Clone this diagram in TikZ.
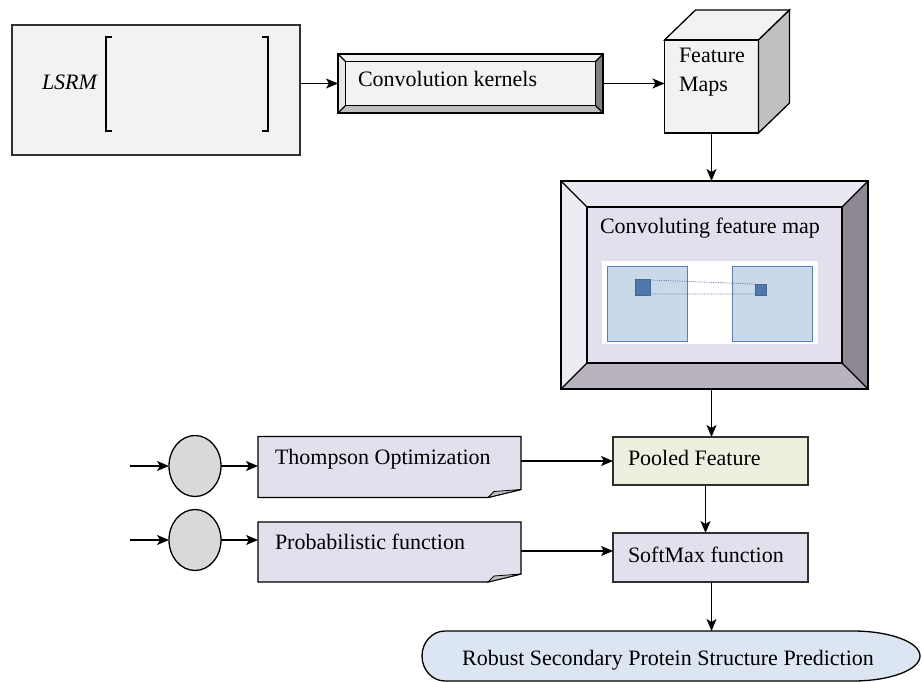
\documentclass[tikz,border=0pt]{standalone}
\usepackage{fontspec}
\setmainfont{Liberation Serif}
\usetikzlibrary{arrows.meta,calc,shapes.geometric}

\definecolor{boxgray}{HTML}{F2F2F2}
\definecolor{edgegray}{HTML}{303030}
\definecolor{lavender}{HTML}{E4DFEC}
\definecolor{lavtop}{HTML}{EBE7F0}
\definecolor{lavleft}{HTML}{EEEBF3}
\definecolor{lavright}{HTML}{8C8791}
\definecolor{lavbottom}{HTML}{B9B3C0}
\definecolor{kerntop}{HTML}{F2F2F2}
\definecolor{kernleft}{HTML}{E8E8E8}
\definecolor{kernright}{HTML}{808080}
\definecolor{kernbottom}{HTML}{BFBFBF}
\definecolor{paleolive}{HTML}{EBF1DE}
\definecolor{paleblue}{HTML}{DCE6F2}
\definecolor{mapfill}{HTML}{C9D9EA}
\definecolor{mapedge}{HTML}{5B7FAE}
\definecolor{patchfill}{HTML}{4F76AD}
\definecolor{circlegray}{HTML}{D9D9D9}
\definecolor{cubeside}{HTML}{C0C0C0}

% bevelled frame around an (empty) rectangular node:
% #1 node, #2 inset, #3 top, #4 left, #5 right, #6 bottom, #7 face colour
\newcommand\bevelbox[7]{%
  \fill[#3] (#1.north west) -- (#1.north east) -- ($(#1.north east)+(-#2,#2)$) -- ($(#1.north west)+(#2,#2)$) -- cycle;
  \fill[#4] (#1.north west) -- ($(#1.north west)+(#2,#2)$) -- ($(#1.south west)+(#2,-#2)$) -- (#1.south west) -- cycle;
  \fill[#5] (#1.north east) -- (#1.south east) -- ($(#1.south east)+(-#2,-#2)$) -- ($(#1.north east)+(-#2,#2)$) -- cycle;
  \fill[#6] (#1.south west) -- (#1.south east) -- ($(#1.south east)+(-#2,-#2)$) -- ($(#1.south west)+(#2,-#2)$) -- cycle;
  \fill[#7] ($(#1.north west)+(#2,#2)$) rectangle ($(#1.south east)+(-#2,-#2)$);
  \draw[edge] ($(#1.north west)+(#2,#2)$) rectangle ($(#1.south east)+(-#2,-#2)$);
  \draw[edge] (#1.north west) -- ($(#1.north west)+(#2,#2)$)
              (#1.north east) -- ($(#1.north east)+(-#2,#2)$)
              (#1.south west) -- ($(#1.south west)+(#2,-#2)$)
              (#1.south east) -- ($(#1.south east)+(-#2,-#2)$);
  \draw[edge] (#1.north west) rectangle (#1.south east);
}

\tikzset{
  edge/.style={draw=black, line width=1.3pt, line join=miter},
  arr/.style={draw=black, line width=1.2pt, -{Stealth[length=12pt,width=10pt,inset=3pt]}},
  frame/.style={draw=none, rectangle, inner sep=0pt, outer sep=0pt},
  label/.style={inner sep=0pt, outer sep=0pt, font=\fontsize{22}{26}\selectfont},
  bubble/.style={ellipse, draw=black, line width=1.3pt, fill=circlegray,
                 minimum width=52pt, minimum height=61pt, inner sep=0pt, outer sep=0pt},
}

\begin{document}
\begin{tikzpicture}[x=1pt,y=-1pt]
\useasboundingbox (0,0) rectangle (923,682);

% ---------- input matrix ----------
\node[frame, fill=boxgray, draw=edgegray, line width=1.4pt,
      minimum width=288pt, minimum height=130pt] (lsrm) at (156,90) {};
\node[label, anchor=base west, font=\fontsize{22}{24}\selectfont\itshape] (lsrmtxt) at (42,90) {LSRM};
\draw[line width=1.8pt] (112,37) -- (106,37) -- (106,131) -- (112,131);
\draw[line width=1.8pt] (262,37) -- (268,37) -- (268,131) -- (262,131);

% ---------- convolution kernels ----------
\node[frame, minimum width=265pt, minimum height=59pt] (kern) at (470.5,83.5) {};
\bevelbox{kern}{7.5}{kerntop}{kernleft}{kernright}{kernbottom}{boxgray}
\node[label, anchor=base west] (kerntxt) at (358,87) {Convolution kernels};

% ---------- feature maps cube ----------
\node[frame, minimum width=94pt, minimum height=93pt] (cube) at (711.5,86.5) {};
\fill[boxgray] (cube.north west) rectangle (cube.south east);
\filldraw[fill=boxgray, edge] (cube.north west) -- ++(31,-30) -- ++(94,0) -- (cube.north east) -- cycle;
\filldraw[fill=cubeside, edge] (cube.north east) -- ++(31,-30) -- ++(0,93) -- (cube.south east) -- cycle;
\draw[edge] (cube.north west) rectangle (cube.south east);
\node[label, anchor=base west] (feat1) at (679,63) {Feature};
\node[label, anchor=base west] (feat2) at (679,92) {Maps};

% ---------- convoluting feature map ----------
\node[frame, minimum width=307pt, minimum height=208pt] (convmap) at (714.5,285) {};
\bevelbox{convmap}{26}{lavtop}{lavleft}{lavright}{lavbottom}{lavender}
\node[label, anchor=base west] (convtxt) at (600,233) {Convoluting feature map};
\fill[white] (602,261) rectangle (818,344);
\filldraw[fill=mapfill, draw=mapedge, line width=1pt] (607,266) rectangle (687,341);
\filldraw[fill=mapfill, draw=mapedge, line width=1pt] (732,266) rectangle (812,341);
\draw[mapedge, densely dotted, line width=0.8pt] (650,280) -- (755,284) (650,294) -- (755,294);
\filldraw[fill=patchfill, draw=mapedge!80!black, line width=1pt] (635,279) rectangle (650,295);
\filldraw[fill=patchfill, draw=mapedge!80!black, line width=1pt] (755,284) rectangle (766,295);

% ---------- pooled feature / softmax ----------
\node[frame, fill=paleolive, draw=edgegray, line width=1.4pt,
      minimum width=195pt, minimum height=48pt] (pooled) at (710.5,461) {};
\node[label, anchor=base west] (pooltxt) at (628,465) {Pooled Feature};
\node[frame, fill=lavender, draw=edgegray, line width=1.4pt,
      minimum width=195pt, minimum height=49pt] (softmax) at (710.5,557.5) {};
\node[label, anchor=base west] (softtxt) at (628,562) {SoftMax function};

% ---------- optimisation inputs ----------
\node[frame, minimum width=263pt, minimum height=61pt] (thompson) at (389.5,467) {};
\filldraw[fill=lavender, edge] (thompson.north west) -- (thompson.north east) -- ($(thompson.south east)+(0,-8)$)
  -- ($(thompson.south east)+(-33,0)$) -- (thompson.south west) -- cycle;
\filldraw[fill=kernbottom, draw=black, line width=0.8pt] ($(thompson.south east)+(-33,0)$) -- ($(thompson.south east)+(-27,-6)$) -- ($(thompson.south east)+(0,-8)$) -- cycle;
\node[label, anchor=base west] (thtxt) at (275,464) {Thompson Optimization};

\node[frame, minimum width=263pt, minimum height=60pt] (prob) at (389.5,552) {};
\filldraw[fill=lavender, edge] (prob.north west) -- (prob.north east) -- ($(prob.south east)+(0,-8)$)
  -- ($(prob.south east)+(-33,0)$) -- (prob.south west) -- cycle;
\filldraw[fill=kernbottom, draw=black, line width=0.8pt] ($(prob.south east)+(-33,0)$) -- ($(prob.south east)+(-27,-6)$) -- ($(prob.south east)+(0,-8)$) -- cycle;
\node[label, anchor=base west] (probtxt) at (275,549) {Probabilistic function};

\node[bubble] (c1) at (195,466) {};
\node[bubble] (c2) at (195,540) {};
\coordinate (in1) at (130,466);
\coordinate (in2) at (130,540);

% ---------- result ----------
\node[frame, minimum width=498pt, minimum height=50pt] (result) at (671,656) {};
\filldraw[fill=paleblue, edge] (445,631) -- (853,631) arc[start angle=-90, end angle=90, x radius=67, y radius=25]
  -- (445,681) arc[start angle=90, end angle=270, x radius=23, y radius=25] -- cycle;
\node[label, anchor=base] (restxt) at (668,665) {Robust Secondary Protein Structure Prediction};

% ---------- connectors ----------
\draw[arr] (lsrm.east |- kern.west) -- (kern.west);
\draw[arr] (kern.east) -- (cube.west |- kern.east);
\draw[arr] (cube.south) -- (cube.south |- convmap.north);
\draw[arr] (cube.south |- convmap.south) -- (cube.south |- pooled.north);
\draw[arr] ([xshift=-5pt]pooled.south) -- ([xshift=-5pt]pooled.south |- softmax.north);
\draw[arr] (cube.south |- softmax.south) -- (cube.south |- result.north);
\draw[arr] (thompson.east |- pooled.west) -- (pooled.west);
\draw[arr] (prob.east |- 0,551) -- (softmax.west |- 0,551);
\draw[arr] (in1) -- (c1.west);
\draw[arr] (in2) -- (c2.west);
\draw[arr] (c1.east) -- (thompson.west |- c1.east);
\draw[arr] (c2.east) -- (prob.west |- c2.east);
\end{tikzpicture}
\end{document}
